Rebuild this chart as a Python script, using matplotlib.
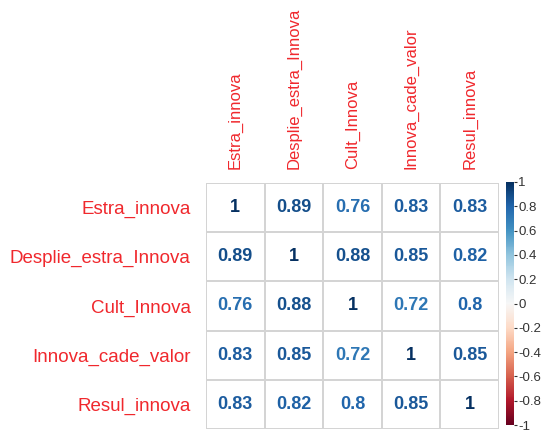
import numpy as np
import matplotlib.pyplot as plt
from matplotlib.colors import ListedColormap, Normalize
from matplotlib.cm import ScalarMappable

plt.rcParams['font.family'] = ['Liberation Sans', 'DejaVu Sans']

# variables and correlation matrix
labels = ['Estra_innova', 'Desplie_estra_Innova', 'Cult_Innova',
          'Innova_cade_valor', 'Resul_innova']
corr = np.array([
    [1.00, 0.89, 0.76, 0.83, 0.83],
    [0.89, 1.00, 0.88, 0.85, 0.82],
    [0.76, 0.88, 1.00, 0.72, 0.80],
    [0.83, 0.85, 0.72, 1.00, 0.85],
    [0.83, 0.82, 0.80, 0.85, 1.00],
])
cbar_ticks = [1, 0.8, 0.6, 0.4, 0.2, 0, -0.2, -0.4, -0.6, -0.8, -1]

W, H = 541, 432
fig = plt.figure(figsize=(W / 100, H / 100), dpi=100)

n = len(labels)
ax = fig.add_axes([206 / W, 1 - 429 / H, (499 - 206) / W, (429 - 183) / H])
ax.pcolormesh(np.zeros((n, n)), cmap=ListedColormap(['white']),
              edgecolors='#d4d4d4', linewidth=1.2)
ax.set_xlim(0, n)
ax.set_ylim(n, 0)
for s in ax.spines.values():
    s.set_visible(False)

cmap = plt.get_cmap('RdBu')
norm = Normalize(-1, 1)
for i in range(n):
    for j in range(n):
        v = corr[i, j]
        txt = '1' if v == 1 else ('%.2f' % v).rstrip('0')
        ax.text(j + 0.5, i + 0.5, txt, ha='center', va='center',
                fontsize=13, fontweight='bold', color=cmap(norm(v)))

ax.xaxis.tick_top()
ax.set_xticks(np.arange(n) + 0.5)
ax.set_xticklabels(labels, rotation=90, color='#f0282d', fontsize=12)
ax.set_yticks(np.arange(n) + 0.5)
ax.set_yticklabels(labels, color='#f0282d', fontsize=13.5)
ax.tick_params(axis='x', length=0, pad=10)
ax.tick_params(axis='y', length=0, pad=11)

# colour legend
cax = fig.add_axes([506 / W, 1 - 425 / H, 8 / W, (425 - 182) / H])
cb = fig.colorbar(ScalarMappable(norm=norm, cmap=cmap), cax=cax)
cb.outline.set_visible(False)
cb.set_ticks(cbar_ticks)
cb.set_ticklabels(['%g' % t for t in cbar_ticks])
cax.tick_params(labelsize=9.5, length=2, width=0.8, pad=1, colors='#333333')

fig.savefig('out.png', dpi=100)
